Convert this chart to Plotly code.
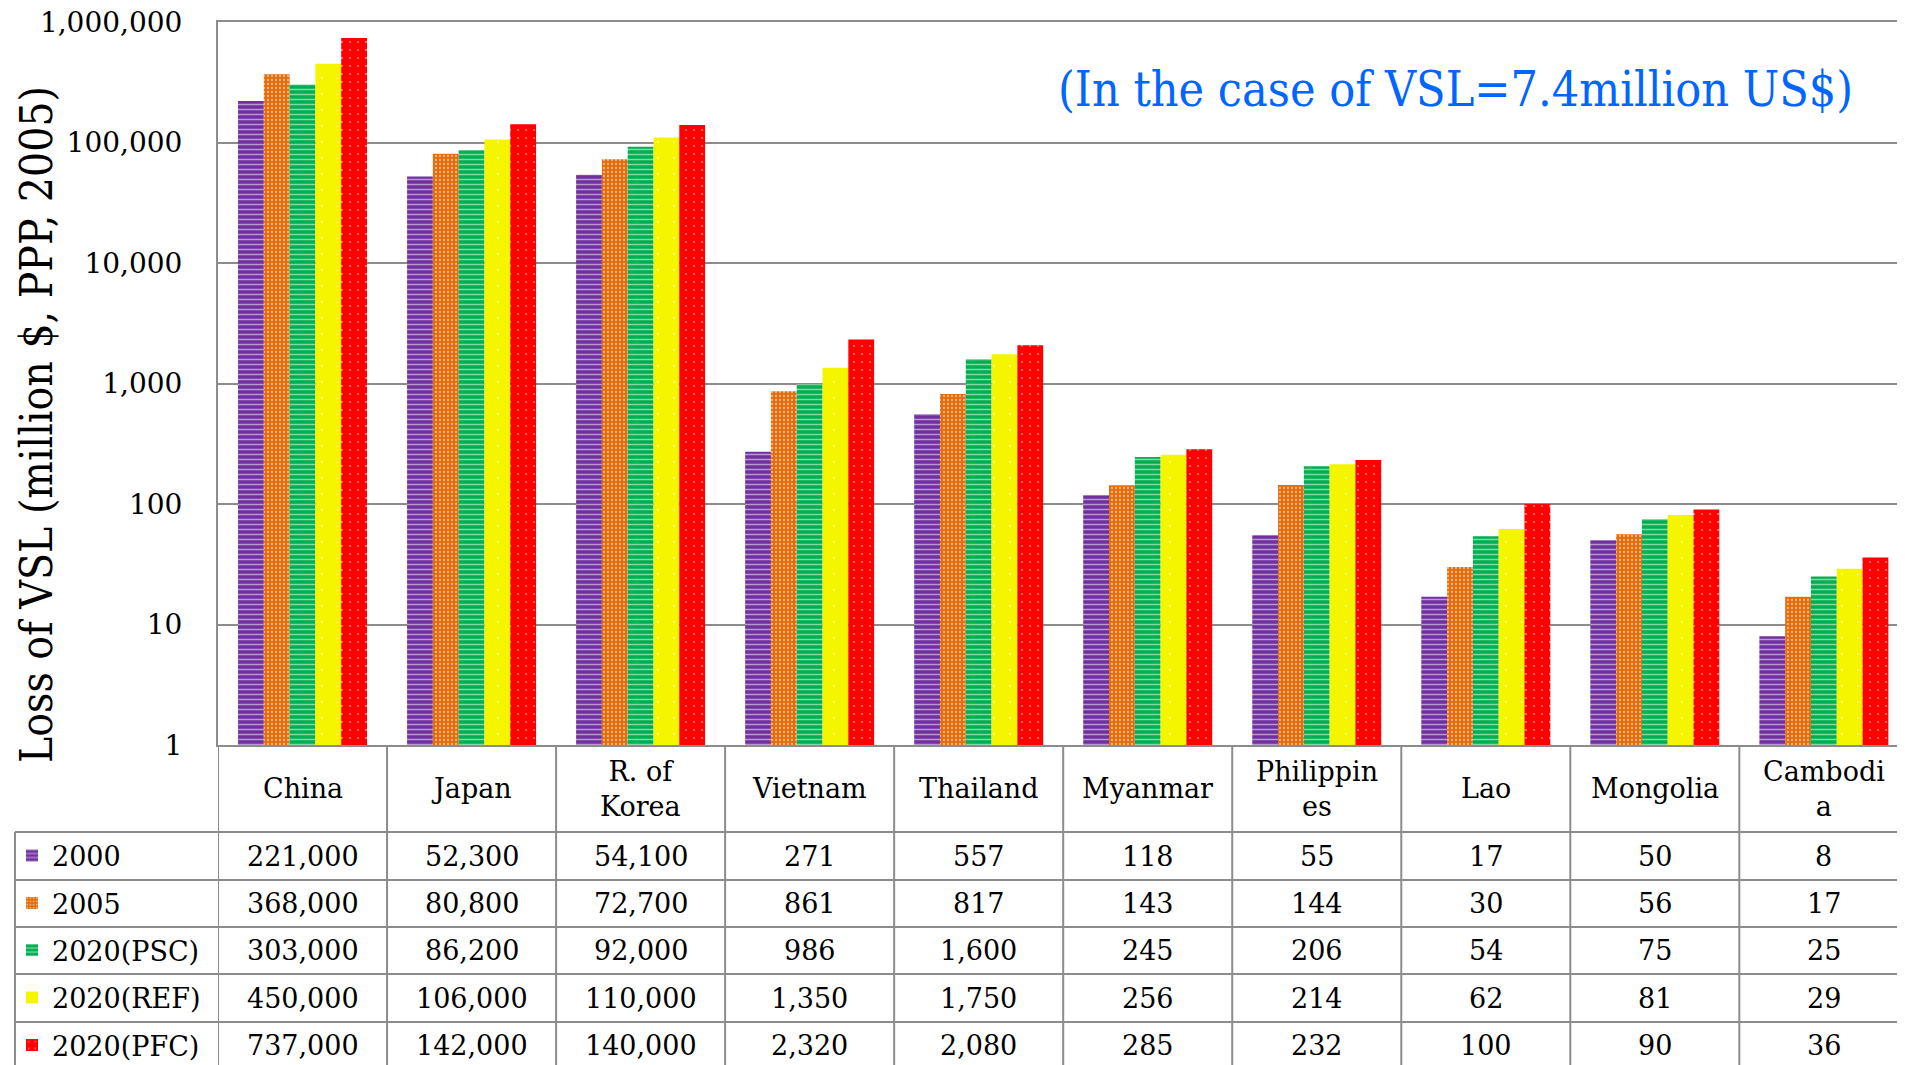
import plotly.graph_objects as go

# 国ごとの値 (million $, PPP, 2005)
countries = ["China", "Japan", "R. of Korea", "Vietnam", "Thailand",
             "Myanmar", "Philippines", "Lao", "Mongolia", "Cambodia"]
header_labels = ["China", "Japan", "R. of<br>Korea", "Vietnam", "Thailand",
                 "Myanmar", "Philippin<br>es", "Lao", "Mongolia", "Cambodi<br>a"]
series_names = ["2000", "2005", "2020(PSC)", "2020(REF)", "2020(PFC)"]

v2000 = [221000, 52300, 54100, 271, 557, 118, 55, 17, 50, 8]
v2005 = [368000, 80800, 72700, 861, 817, 143, 144, 30, 56, 17]
v2020_psc = [303000, 86200, 92000, 986, 1600, 245, 206, 54, 75, 25]
v2020_ref = [450000, 106000, 110000, 1350, 1750, 256, 214, 62, 81, 29]
v2020_pfc = [737000, 142000, 140000, 2320, 2080, 285, 232, 100, 90, 36]
series_values = [v2000, v2005, v2020_psc, v2020_ref, v2020_pfc]

colors = ["#7030A0", "#E46C0A", "#00B050", "#F5F500", "#FF0000"]
patterns = [
    dict(shape="-", size=5, solidity=0.3, fgcolor="white"),
    dict(shape=".", size=4, solidity=0.25, fgcolor="white"),
    dict(shape="-", size=5, solidity=0.3, fgcolor="white"),
    dict(shape=".", size=16, solidity=0.015, fgcolor="white"),
    dict(shape=".", size=8, solidity=0.06, fgcolor="white"),
]

# ページ余白 (body margin 8px) を差し引いた図のサイズ
OFF = 8
W, H = 1905 - OFF, 1065 - OFF
FONT = "DejaVu Serif"
FONT_C = "DejaVu Serif Condensed, DejaVu Serif"
GRID = "#8c8c8c"


def fx(p):
    return (p - OFF) / W


def fy(p):
    return 1 - (p - OFF) / H


plot_left, plot_top, plot_bottom = 218, 22, 745
table_left = 15
row_edges = [745, 832, 880, 927, 974, 1022, 1069]

fig = go.Figure()
for k, (name, vals) in enumerate(zip(series_names, series_values)):
    fig.add_trace(go.Bar(
        x=countries, y=vals, name=name,
        marker=dict(color=colors[k], pattern=patterns[k], line_width=0),
        legend="legend" if k == 0 else f"legend{k + 1}",
    ))

fig.update_layout(
    width=W, height=H,
    margin=dict(l=0, r=0, t=0, b=0, autoexpand=False),
    paper_bgcolor="white", plot_bgcolor="white",
    barmode="group", bargap=0.237, bargroupgap=0,
    font=dict(family=FONT, size=27, color="black"),
    xaxis=dict(domain=[fx(plot_left), 1], range=[-0.5, 9.48],
               showticklabels=False, showgrid=False, automargin=False,
               showline=True, mirror=True, linecolor=GRID, linewidth=2),
    yaxis=dict(domain=[fy(plot_bottom), fy(plot_top)], type="log",
               range=[0, 6], dtick=1, tickformat=",", automargin=False,
               tickfont=dict(family=FONT, size=28), ticks="",
               ticklabelstandoff=28, ticklabeloverflow="allow",
               showgrid=True, gridcolor=GRID, gridwidth=1.5,
               showline=True, linecolor=GRID, linewidth=2),
    showlegend=True,
)

# 表の凡例 (各行に1つずつ)
for k in range(5):
    key = "legend" if k == 0 else f"legend{k + 1}"
    yc = (row_edges[k + 1] + row_edges[k + 2]) / 2
    fig.update_layout(**{key: dict(
        x=fx(12), y=fy(yc), xanchor="left", yanchor="middle",
        bgcolor="rgba(0,0,0,0)", font=dict(family=FONT, size=27),
        itemwidth=30,
    )})

annotations = []
# 縦軸タイトル
annotations.append(dict(
    x=fx(36), y=fy(425), xref="paper", yref="paper",
    xanchor="center", yanchor="middle",
    text="Loss of VSL (million $, PPP, 2005)", textangle=-90,
    showarrow=False, font=dict(family=FONT_C, size=44, color="black"),
))
# 注記
annotations.append(dict(
    x=fx(1455), y=fy(89), xref="paper", yref="paper",
    xanchor="center", yanchor="middle",
    text="(In the case of VSL=7.4million US$)",
    showarrow=False, font=dict(family=FONT_C, size=48, color="#0066FF"),
))
# 表の見出し
for i, lab in enumerate(header_labels):
    annotations.append(dict(
        x=i, y=fy((row_edges[0] + row_edges[1]) / 2), xref="x", yref="paper",
        text=lab, showarrow=False, yanchor="middle",
        font=dict(family=FONT, size=27, color="black"),
    ))
# 表の数値
for k, vals in enumerate(series_values):
    yc = (row_edges[k + 1] + row_edges[k + 2]) / 2
    for i, v in enumerate(vals):
        annotations.append(dict(
            x=i, y=fy(yc), xref="x", yref="paper",
            text=f"{v:,}", showarrow=False, yanchor="middle",
            font=dict(family=FONT, size=27, color="black"),
        ))
fig.update_layout(annotations=annotations)

# 表の罫線
shapes = []
for i in range(11):
    shapes.append(dict(type="line", xref="x", yref="paper",
                       x0=i - 0.5, x1=i - 0.5, y0=0, y1=fy(plot_bottom),
                       line=dict(color=GRID, width=2)))
shapes.append(dict(type="line", xref="paper", yref="paper",
                   x0=fx(table_left), x1=fx(table_left), y0=0, y1=fy(row_edges[1]),
                   line=dict(color=GRID, width=2)))
for r in row_edges[1:6]:
    shapes.append(dict(type="line", xref="paper", yref="paper",
                       x0=fx(table_left), x1=1, y0=fy(r), y1=fy(r),
                       line=dict(color=GRID, width=2)))
fig.update_layout(shapes=shapes)

fig.write_html("out.html")
